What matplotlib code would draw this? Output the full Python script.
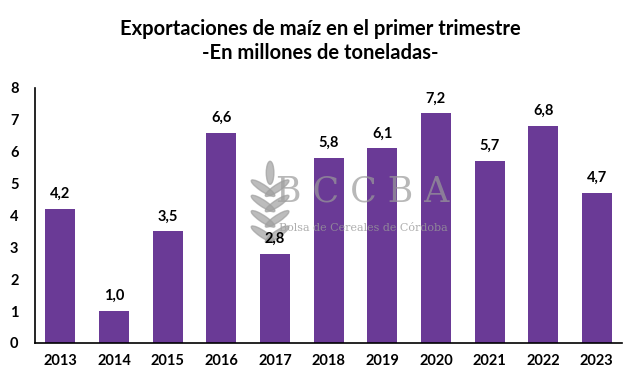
import matplotlib
matplotlib.use("Agg")
import matplotlib.pyplot as plt
from matplotlib.patches import Ellipse

years = ["2013", "2014", "2015", "2016", "2017", "2018", "2019", "2020", "2021", "2022", "2023"]
exports = [4.2, 1.0, 3.5, 6.6, 2.8, 5.8, 6.1, 7.2, 5.7, 6.8, 4.7]

plt.rcParams['font.family'] = ['Lato', 'DejaVu Sans']

fig = plt.figure(figsize=(6.4, 3.84), dpi=100)
ax = fig.add_axes([0.055, 0.107, 0.917, 0.664])

x = range(len(years))
bars = ax.bar(x, exports, width=0.56, color="#6a3a96", zorder=2)
for xi, v in zip(x, exports):
    ax.text(xi, v + 0.25, f"{v:.1f}".replace(".", ","), ha="center", va="bottom",
            fontsize=10.5, fontweight="bold", zorder=5)

ax.set_xlim(-0.47, len(years) - 0.53)
ax.set_ylim(0, 8)
ax.set_yticks(range(0, 9))
ax.set_xticks(list(x))
ax.set_xticklabels(years)
ax.tick_params(axis="both", length=0, labelsize=10.5)
for lab in ax.get_xticklabels() + ax.get_yticklabels():
    lab.set_fontweight("bold")
ax.tick_params(axis="x", pad=8)
ax.tick_params(axis="y", pad=12)
for s in ["top", "right"]:
    ax.spines[s].set_visible(False)
ax.spines["left"].set_linewidth(1.2)
ax.spines["bottom"].set_linewidth(1.2)

fig.suptitle("Exportaciones de maíz en el primer trimestre\n-En millones de toneladas-",
             y=0.95, fontsize=14.5, fontweight="bold", linespacing=1.25)

# watermark (over bars, under value labels)
ax.text(0.567, 0.50, "B C C B A", ha="center", va="center", fontsize=25,
        family="DejaVu Serif", color="#9a9a9a", alpha=0.7, zorder=3,
        transform=fig.transFigure)
ax.text(0.567, 0.405, "Bolsa de Cereales de Córdoba", ha="center", va="center", fontsize=8,
        family="DejaVu Serif", color="#9a9a9a", alpha=0.8, zorder=3,
        transform=fig.transFigure)
for i in range(4):
    yy = 0.51 - i * 0.04
    for dx, ang in [(-0.011, 40), (0.011, -40)]:
        ax.add_patch(Ellipse((0.422 + dx, yy), 0.014, 0.055, angle=ang,
                             transform=fig.transFigure, color="#a0a0a0", alpha=0.7,
                             zorder=3, clip_on=False))
ax.add_patch(Ellipse((0.422, 0.55), 0.012, 0.06, transform=fig.transFigure,
                     color="#a0a0a0", alpha=0.7, zorder=3, clip_on=False))

fig.savefig("out.png", dpi=100)
